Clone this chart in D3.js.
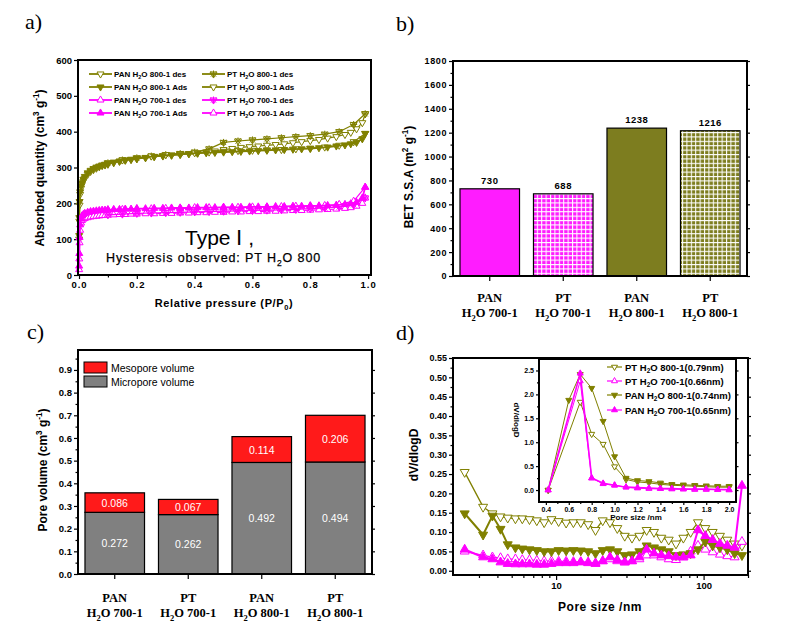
<!DOCTYPE html>
<html>
<head>
<meta charset="utf-8">
<script src="https://cdn.jsdelivr.net/npm/d3@7/dist/d3.min.js"></script>
<style>
html,body{margin:0;padding:0;background:#fff;}
svg{display:block;}
</style>
</head>
<body>
<svg id="chart" width="808" height="627"></svg>
<script>
// ================= DATA =================
// (a) N2 isotherms: relative pressure grids
const adsP = [0.0005,0.001,0.002,0.004,0.007,0.01,0.015,0.02,0.03,0.04,0.05,0.06,0.07,0.08,0.09,0.10,0.12,0.14,0.16,0.18,0.20,0.23,0.26,0.29,0.32,0.35,0.38,0.41,0.44,0.47,0.50,0.53,0.56,0.59,0.62,0.65,0.68,0.71,0.74,0.77,0.80,0.83,0.86,0.89,0.92,0.94,0.96,0.98,0.99];
const desP = [0.99,0.95,0.90,0.85,0.80,0.75,0.70,0.65,0.60,0.55,0.50,0.45,0.40,0.35,0.30,0.25,0.20,0.15,0.10];
const pan800Ads = [110,160,205,232,248,257,267,275,285,292,297,301,304,307,309,311,315,318,321,323,325,328,331,333,335,337,339,340,341,342,343,344,345,346,347,348,349,350,351,352,353,355,357,360,363,366,370,380,395];
const pan800Des = [395,372,362,357,354,352,350,349,348,347,345,343,341,339,336,332,327,321,313];
const pt800Ads  = [100,150,195,225,242,252,262,270,281,289,294,298,302,305,307,309,313,317,320,322,324,327,330,332,334,336,338,340,343,346,350,353,356,358,360,362,364,366,369,372,375,378,382,386,392,398,408,425,450];
const pt800Des  = [450,420,400,393,389,386,383,380,377,374,370,352,343,339,336,332,327,321,313];
const pan700Ads = [25,60,105,140,158,165,169,172,175,177,178,179,180,181,181,182,183,183,184,184,185,185,186,186,187,187,187,188,188,188,189,189,189,190,190,190,191,191,192,192,193,193,194,195,197,199,203,215,245];
const pan700Des = [245,206,197,194,193,192,191,190,190,189,189,188,188,187,186,185,185,183,182];
const pt700Ads  = [15,45,90,125,145,152,156,158,160,162,163,164,165,166,166,167,168,169,169,170,170,171,171,172,172,173,173,174,174,175,175,176,176,177,177,178,178,179,180,180,181,182,183,184,186,188,192,200,215];
const pt700Des  = [215,196,190,187,185,183,182,181,180,179,178,177,176,175,174,173,172,170,168];
const aXTicks = [0,0.2,0.4,0.6,0.8,1.0];
const aXMinor = [0.1,0.3,0.5,0.7,0.9];
const aYTicks = [0,100,200,300,400,500,600];

// (b),(c) samples
const sampleTop = ["PAN","PT","PAN","PT"];
const sampleTemp = ["700-1","700-1","800-1","800-1"];
const sampleIds = ["PAN H2O 700-1","PT H2O 700-1","PAN H2O 800-1","PT H2O 800-1"];
const betSSA = [730,688,1238,1216];
const bYTicks = [0,200,400,600,800,1000,1200,1400,1600,1800];
const bYMinor = [100,300,500,700,900,1100,1300,1500,1700];
const microVol = [0.272,0.262,0.492,0.494];
const mesoVol  = [0.086,0.067,0.114,0.206];
const cYTicks = [0,0.1,0.2,0.3,0.4,0.5,0.6,0.7,0.8,0.9];
const cYMinor = [0.05,0.15,0.25,0.35,0.45,0.55,0.65,0.75,0.85,0.95];

// (d) pore size distribution
const poreSize = [2.4,3.2,3.7,4.2,4.7,5.3,5.9,6.6,7.4,8.3,9.3,10.4,11.7,13.1,14.7,16.5,18.5,20.7,23.2,26.0,29.2,32.7,36.7,41.1,46.1,51.7,58.0,65.0,72.9,81.7,91.6,102.7,115.2,129.1,144.8,162.3,182.0];
const pt800Psd  = [0.255,0.165,0.148,0.140,0.137,0.135,0.135,0.133,0.130,0.125,0.133,0.128,0.124,0.125,0.125,0.120,0.105,0.130,0.125,0.110,0.090,0.085,0.090,0.105,0.100,0.085,0.080,0.070,0.085,0.100,0.125,0.110,0.100,0.090,0.080,0.070,0.065];
const pan800Psd = [0.148,0.093,0.142,0.108,0.068,0.060,0.057,0.055,0.053,0.050,0.050,0.053,0.052,0.053,0.052,0.050,0.045,0.053,0.055,0.050,0.040,0.042,0.050,0.065,0.060,0.055,0.050,0.040,0.042,0.045,0.055,0.075,0.065,0.060,0.055,0.045,0.040];
const pt700Psd  = [0.050,0.040,0.035,0.033,0.030,0.030,0.028,0.028,0.026,0.025,0.025,0.024,0.024,0.023,0.023,0.022,0.020,0.025,0.030,0.025,0.022,0.025,0.030,0.040,0.040,0.035,0.030,0.028,0.035,0.050,0.065,0.055,0.048,0.042,0.038,0.035,0.075];
const pan700Psd = [0.055,0.035,0.030,0.022,0.018,0.017,0.017,0.017,0.016,0.016,0.018,0.020,0.020,0.020,0.022,0.020,0.018,0.025,0.035,0.028,0.022,0.025,0.035,0.055,0.045,0.040,0.038,0.035,0.035,0.040,0.105,0.090,0.080,0.070,0.065,0.060,0.220];
const dYTicks = [0,0.05,0.10,0.15,0.20,0.25,0.30,0.35,0.40,0.45,0.50,0.55];
const dYMinor = [0.025,0.075,0.125,0.175,0.225,0.275,0.325,0.375,0.425,0.475,0.525];
const dXTicks = [10,100];
const dXMinor = [3,4,5,6,7,8,9,20,30,40,50,60,70,80,90,200];
// inset (micropores)
const insetSize800PT  = [0.42,0.7,0.8,0.9,1.0,1.1,1.2,1.3,1.4,1.5,1.6,1.7,1.8,1.9,2.0];
const insetPt800      = [0,1.84,1.17,0.96,0.49,0.22,0.17,0.15,0.12,0.10,0.09,0.08,0.07,0.06,0.06];
const insetSize800PAN = [0.42,0.6,0.7,0.8,0.9,1.0,1.1,1.2,1.3,1.4,1.5,1.6,1.7,1.8,1.9,2.0];
const insetPan800     = [0,1.88,2.42,2.13,1.44,0.70,0.25,0.20,0.18,0.15,0.12,0.11,0.10,0.09,0.08,0.08];
const insetSize700    = [0.42,0.7,0.8,0.9,1.0,1.1,1.2,1.3,1.4,1.5,1.6,1.7,1.8,1.9,2.0];
const insetPt700      = [0,2.28,0.25,0.13,0.10,0.06,0.04,0.03,0.03,0.02,0.02,0.01,0.01,0.01,0.0];
const insetPan700     = [0,2.44,0.25,0.14,0.10,0.06,0.05,0.04,0.03,0.03,0.02,0.02,0.02,0.01,0.01];
const insetXTicks = [0.4,0.6,0.8,1.0,1.2,1.4,1.6,1.8,2.0];
const insetXMinor = [0.5,0.7,0.9,1.1,1.3,1.5,1.7,1.9];
const insetYTicks = [0,0.5,1.0,1.5,2.0,2.5];
const insetYMinor = [0.25,0.75,1.25,1.75,2.25];

// ================= STYLE =================
const OLIVE = "#808000", MAG = "#ff00ff", BAR_M = "#ff1cff", BAR_O = "#7d7d1f", GRAY = "#808080", RED = "#ff1a1a";
const SANS = "'Liberation Sans', Arial, sans-serif";
const SERIF = "'Liberation Serif', 'Times New Roman', serif";

const svg = d3.select("#chart");
svg.append("rect").attr("width",808).attr("height",627).attr("fill","#fff");
const defs = svg.append("defs");
function gridPattern(id, color){
  const p = defs.append("pattern").attr("id",id).attr("patternUnits","userSpaceOnUse").attr("width",4.4).attr("height",4.4);
  p.append("rect").attr("width",4.4).attr("height",4.4).attr("fill",color);
  p.append("path").attr("d","M0,0.5H4.4M0.5,0V4.4").attr("stroke","#fff").attr("stroke-width",1.1);
}
gridPattern("gM", BAR_M);
gridPattern("gO", BAR_O);

function markerPath(type, s){
  const a = s*0.58, b = s*0.29, h = s*0.5;
  if(type==="up") return `M0,${-a}L${h},${b}L${-h},${b}Z`;
  if(type==="down") return `M0,${a}L${h},${-b}L${-h},${-b}Z`;
  if(type==="star") return `M0,${a}L${h},${-b}L${-h},${-b}ZM${-h},0L${h},0M${-h*0.75},${-h*0.75}L${h*0.75},${h*0.75}M${h*0.75},${-h*0.75}L${-h*0.75},${h*0.75}M0,${-h}L0,${h}`;
  return "";
}
function drawMarkers(g, pts, color, type, size, open){
  g.selectAll(null).data(pts).join("path")
    .attr("transform",d=>`translate(${d[0]},${d[1]})`)
    .attr("d",markerPath(type,size))
    .attr("fill", type==="star" ? "none" : (open ? "#fff" : color))
    .attr("stroke",color).attr("stroke-width",1);
}
function drawSeries(g, xs, ys, xS, yS, color, type, size, lw, open){
  const pts = xs.map((x,i)=>[xS(x), yS(ys[i])]);
  g.append("path").attr("d", d3.line()(pts)).attr("fill","none").attr("stroke",color).attr("stroke-width",lw).attr("stroke-linejoin","round");
  drawMarkers(g, pts, color, type, size, open);
}
function axis(g, orient, scale, pos, vals, fmt, size, fs){
  const gen = {left:d3.axisLeft, right:d3.axisRight, bottom:d3.axisBottom, top:d3.axisTop}[orient](scale)
    .tickValues(vals).tickSize(size).tickSizeOuter(0).tickPadding(2)
    .tickFormat(fmt || (()=>""));
  const a = g.append("g")
    .attr("transform", (orient==="left"||orient==="right") ? `translate(${pos},0)` : `translate(0,${pos})`)
    .call(gen);
  a.select(".domain").remove();
  a.selectAll("line").attr("stroke","#000").attr("stroke-width",1.2);
  a.selectAll("text").attr("fill","#000").attr("font-size",fs||9).attr("font-weight","bold").attr("font-family",SANS);
  return a;
}
function frame(g, x0, y0, x1, y1, w){
  g.append("rect").attr("x",x0).attr("y",y0).attr("width",x1-x0).attr("height",y1-y0)
    .attr("fill","none").attr("stroke","#000").attr("stroke-width",w||2);
}
// rich text: parts = [[text, kind]] kind: n | sup | sub
function rich(t, parts, base){
  let shift = 0;
  parts.forEach(([s,k])=>{
    const target = k==="sup" ? -0.42*base : (k==="sub" ? 0.3*base : 0);
    t.append("tspan").attr("dy", target-shift).attr("font-size", k==="n" ? base : base*0.68).text(s);
    shift = target;
  });
  return t;
}
function panelLabel(x,y,txt){
  svg.append("text").attr("x",x).attr("y",y).attr("font-family",SERIF).attr("font-size",22).text(txt);
}

// ================= PANEL A =================
(function(){
  const g = svg.append("g");
  const x = d3.scaleLinear().domain([-0.0035,1.01]).range([78,371]);
  const y = d3.scaleLinear().domain([0,600]).range([275,60]);
  axis(g,"left",y,78,aYTicks,d3.format("d"),4,9.5);
  axis(g,"bottom",x,275,aXTicks,d3.format(".1f"),4,9.5).selectAll("text").attr("letter-spacing",1);
  axis(g,"bottom",x,275,aXMinor,null,2.5);

  const s = g.append("g");
  drawSeries(s, adsP, pt800Ads, x, y, OLIVE, "down", 7, 1.2, true);
  drawSeries(s, desP, pt800Des, x, y, OLIVE, "star", 7, 1.2, false);
  drawSeries(s, desP, pan800Des, x, y, OLIVE, "down", 7, 1.2, true);
  drawSeries(s, adsP, pan800Ads, x, y, OLIVE, "down", 7, 1.8, false);
  drawSeries(s, adsP, pt700Ads, x, y, MAG, "up", 7, 1.2, true);
  drawSeries(s, desP, pt700Des, x, y, MAG, "star", 7, 1.2, false);
  drawSeries(s, desP, pan700Des, x, y, MAG, "up", 7, 1.2, true);
  drawSeries(s, adsP, pan700Ads, x, y, MAG, "up", 7, 1.8, false);

  // legend
  const leg = [
    [89,74,OLIVE,"down",true,"PAN H","800-1 des"],
    [89,87,OLIVE,"down",false,"PAN H","800-1 Ads"],
    [89,100,MAG,"up",true,"PAN H","700-1 des"],
    [89,113,MAG,"up",false,"PAN H","700-1 Ads"],
    [202,74,OLIVE,"star",false,"PT H","800-1 des"],
    [202,87,OLIVE,"down",true,"PT H","800-1 Ads"],
    [202,100,MAG,"star",false,"PT H","700-1 des"],
    [202,113,MAG,"up",true,"PT H","700-1 Ads"]
  ];
  leg.forEach(([lx,ly,c,t,open,p1,p2])=>{
    g.append("line").attr("x1",lx).attr("x2",lx+23).attr("y1",ly).attr("y2",ly).attr("stroke",c).attr("stroke-width",1.8);
    drawMarkers(g,[[lx+11.5,ly]],c,t,7,open);
    const tx = g.append("text").attr("x",lx+25).attr("y",ly+3).attr("font-family",SANS).attr("font-weight","bold").attr("font-size",8);
    rich(tx,[[p1,"n"],["2","sub"],["O "+p2,"n"]],8);
  });

  const t1 = g.append("text").attr("x",185).attr("y",245).attr("font-family",SANS).attr("font-size",21);
  t1.append("tspan").text("Type ");
  t1.append("tspan").attr("font-family",SERIF).text("Ⅰ");
  t1.append("tspan").text(" ,");
  const t2 = g.append("text").attr("x",106).attr("y",262).attr("font-family",SANS).attr("font-size",12.5).attr("letter-spacing",0.9)
    .attr("stroke","#000").attr("stroke-width",0.25);
  rich(t2,[["Hysteresis  observed:  PT H","n"],["2","sub"],["O 800","n"]],12.5);

  frame(g,78,60,371,275,2);

  const yt = g.append("text").attr("transform","translate(44,168) rotate(-90)").attr("text-anchor","middle")
    .attr("font-family",SANS).attr("font-weight","bold").attr("font-size",12);
  rich(yt,[["Absorbed quantity (cm","n"],["3","sup"],[" g","n"],["-1","sup"],[")","n"]],12);
  const xt = g.append("text").attr("x",224).attr("y",307).attr("text-anchor","middle")
    .attr("font-family",SANS).attr("font-weight","bold").attr("font-size",11).attr("letter-spacing",0.6);
  rich(xt,[["Relative pressure (P/P","n"],["0","sub"],[")","n"]],11);
})();
panelLabel(25,29,"a)");

// category labels for bar panels
function catLabels(g, x, yBase){
  sampleIds.forEach((id,i)=>{
    const cx = x(id) + x.bandwidth()/2;
    g.append("text").attr("x",cx).attr("y",yBase).attr("text-anchor","middle").attr("font-family",SERIF)
      .attr("font-weight","bold").attr("font-size",12.5).text(sampleTop[i]);
    const t = g.append("text").attr("x",cx).attr("y",yBase+15).attr("text-anchor","middle").attr("font-family",SERIF)
      .attr("font-weight","bold").attr("font-size",12.5);
    rich(t,[["H","n"],["2","sub"],["O "+sampleTemp[i],"n"]],12.5);
  });
}

// ================= PANEL B =================
(function(){
  const g = svg.append("g");
  const x = d3.scaleBand().domain(sampleIds).range([453,747]).paddingInner(0.19).paddingOuter(0.095);
  const y = d3.scaleLinear().domain([0,1800]).range([276,61]);
  axis(g,"left",y,453,bYTicks,d3.format("d"),4,9).selectAll("text").attr("letter-spacing",0.6);
  axis(g,"left",y,453,bYMinor,null,2.5);
  axis(g,"right",y,747,bYTicks,null,3);
  axis(g,"bottom",x,276,sampleIds,null,5);
  const fills = [BAR_M,"url(#gM)",BAR_O,"url(#gO)"];
  g.selectAll(null).data(betSSA).join("rect")
    .attr("x",(d,i)=>x(sampleIds[i])).attr("width",x.bandwidth())
    .attr("y",d=>y(d)).attr("height",d=>y(0)-y(d))
    .attr("fill",(d,i)=>fills[i]).attr("stroke","#000").attr("stroke-width",1.2);
  g.selectAll(null).data(betSSA).join("text")
    .attr("x",(d,i)=>x(sampleIds[i])+x.bandwidth()/2).attr("y",d=>y(d)-5)
    .attr("text-anchor","middle").attr("font-family",SANS).attr("font-weight","bold").attr("font-size",9.5)
    .attr("letter-spacing",0.5).text(d=>d);
  frame(g,453,61,747,276,2);
  catLabels(g,x,302);
  const yt = g.append("text").attr("transform","translate(413,177) rotate(-90)").attr("text-anchor","middle")
    .attr("font-family",SANS).attr("font-weight","bold").attr("font-size",12);
  rich(yt,[["BET S.S.A (m","n"],["2","sup"],[" g","n"],["-1","sup"],[")","n"]],12);
})();
panelLabel(396,31,"b)");

// ================= PANEL C =================
(function(){
  const g = svg.append("g");
  const x = d3.scaleBand().domain(sampleIds).range([78,372]).paddingInner(0.19).paddingOuter(0.095);
  const y = d3.scaleLinear().domain([0,0.988]).range([574,350]);
  axis(g,"left",y,78,cYTicks,d3.format(".1f"),4,9.5);
  axis(g,"left",y,78,cYMinor,null,2.5);
  axis(g,"right",y,372,cYTicks,null,3);
  axis(g,"bottom",x,574,sampleIds,null,5);
  const bw = x.bandwidth();
  sampleIds.forEach((id,i)=>{
    const x0 = x(id);
    g.append("rect").attr("x",x0).attr("width",bw).attr("y",y(microVol[i])).attr("height",y(0)-y(microVol[i]))
      .attr("fill",GRAY).attr("stroke","#000").attr("stroke-width",1.2);
    const top = microVol[i]+mesoVol[i];
    g.append("rect").attr("x",x0).attr("width",bw).attr("y",y(top)).attr("height",y(microVol[i])-y(top))
      .attr("fill",RED).attr("stroke","#000").attr("stroke-width",1.2);
    g.append("text").attr("x",x0+bw/2).attr("y",(y(0)+y(microVol[i]))/2+4).attr("text-anchor","middle")
      .attr("fill","#fff").attr("font-family",SANS).attr("font-size",10.5).text(d3.format(".3f")(microVol[i]));
    g.append("text").attr("x",x0+bw/2).attr("y",(y(microVol[i])+y(top))/2+4).attr("text-anchor","middle")
      .attr("fill","#fff").attr("font-family",SANS).attr("font-size",10.5).text(d3.format(".3f")(mesoVol[i]));
  });
  // legend
  g.append("rect").attr("x",84).attr("y",362).attr("width",23).attr("height",11).attr("fill",RED).attr("stroke","#000").attr("stroke-width",1);
  g.append("rect").attr("x",84).attr("y",376).attr("width",23).attr("height",11).attr("fill",GRAY).attr("stroke","#000").attr("stroke-width",1);
  g.append("text").attr("x",111).attr("y",371.5).attr("font-family",SANS).attr("font-size",10.5).text("Mesopore volume");
  g.append("text").attr("x",111).attr("y",385.5).attr("font-family",SANS).attr("font-size",10.5).text("Micropore volume");
  frame(g,78,350,372,574,2);
  catLabels(g,x,602);
  const yt = g.append("text").attr("transform","translate(47,470) rotate(-90)").attr("text-anchor","middle")
    .attr("font-family",SANS).attr("font-weight","bold").attr("font-size",12);
  rich(yt,[["Pore volume (cm","n"],["3","sup"],[" g","n"],["-1","sup"],[")","n"]],12);
})();
panelLabel(27,339,"c)");

// ================= PANEL D =================
(function(){
  const g = svg.append("g");
  const x = d3.scaleLog().domain([2,200]).range([453,748]);
  const y = d3.scaleLinear().domain([-0.011,0.55]).range([575,358]);
  axis(g,"left",y,453,dYTicks,d3.format(".2f"),4,9);
  axis(g,"left",y,453,dYMinor,null,2.5);
  axis(g,"right",y,748,dYTicks,null,3);
  axis(g,"bottom",x,575,dXTicks,d3.format("d"),5,9.5);
  axis(g,"bottom",x,575,dXMinor,null,3);

  const s = g.append("g");
  drawSeries(s, poreSize, pt800Psd, x, y, OLIVE, "down", 9, 1.3, true);
  drawSeries(s, poreSize, pt700Psd, x, y, MAG, "up", 9, 1.3, true);
  drawSeries(s, poreSize, pan800Psd, x, y, OLIVE, "down", 9, 2, false);
  drawSeries(s, poreSize, pan700Psd, x, y, MAG, "up", 9, 2, false);

  frame(g,453,358,748,575,2);
  g.append("text").attr("transform","translate(418,455) rotate(-90)").attr("text-anchor","middle")
    .attr("font-family",SANS).attr("font-weight","bold").attr("font-size",12).text("dV/dlogD");
  g.append("text").attr("x",600).attr("y",611).attr("text-anchor","middle")
    .attr("font-family",SANS).attr("font-weight","bold").attr("font-size",12).attr("letter-spacing",0.5).text("Pore size /nm");

  // ---- inset ----
  const ig = g.append("g");
  ig.append("rect").attr("x",539).attr("y",359).attr("width",197).attr("height",143).attr("fill","#fff");
  const ix = d3.scaleLinear().domain([0.34,2.06]).range([539,736]);
  const iy = d3.scaleLinear().domain([-0.25,2.74]).range([502,359]);
  axis(ig,"left",iy,539,insetYTicks,d3.format(".1f"),3,7);
  axis(ig,"left",iy,539,insetYMinor,null,2);
  axis(ig,"right",iy,736,insetYTicks,null,2.5);
  axis(ig,"bottom",ix,502,insetXTicks,d3.format(".1f"),3,7);
  axis(ig,"bottom",ix,502,insetXMinor,null,2);
  drawSeries(ig, insetSize800PT, insetPt800, ix, iy, OLIVE, "down", 6, 1, true);
  drawSeries(ig, insetSize800PAN, insetPan800, ix, iy, OLIVE, "down", 6, 1, false);
  drawSeries(ig, insetSize700, insetPt700, ix, iy, MAG, "up", 6, 1, true);
  drawSeries(ig, insetSize700, insetPan700, ix, iy, MAG, "up", 6, 1.6, false);
  frame(ig,539,359,736,502,2);
  ig.append("text").attr("transform","translate(514,420) rotate(90)").attr("text-anchor","middle")
    .attr("font-family",SANS).attr("font-weight","bold").attr("font-size",8).text("dV/dlogD");
  ig.append("text").attr("x",636).attr("y",520).attr("text-anchor","middle")
    .attr("font-family",SANS).attr("font-weight","bold").attr("font-size",8).text("Pore size /nm");
  const ileg = [
    [367,OLIVE,"down",true,"PT H","800-1(0.79nm)"],
    [381,MAG,"up",true,"PT H","700-1(0.66nm)"],
    [395,OLIVE,"down",false,"PAN H","800-1(0.74nm)"],
    [410,MAG,"up",false,"PAN H","700-1(0.65nm)"]
  ];
  ileg.forEach(([ly,c,t,open,p1,p2])=>{
    ig.append("line").attr("x1",607).attr("x2",622).attr("y1",ly).attr("y2",ly).attr("stroke",c).attr("stroke-width",1.2);
    drawMarkers(ig,[[614.5,ly]],c,t,6,open);
    const tx = ig.append("text").attr("x",625).attr("y",ly+3.5).attr("font-family",SANS).attr("font-weight","bold").attr("font-size",9.5);
    rich(tx,[[p1,"n"],["2","sub"],["O "+p2,"n"]],9.5);
  });
})();
panelLabel(396,340,"d)");
</script>
</body>
</html>
